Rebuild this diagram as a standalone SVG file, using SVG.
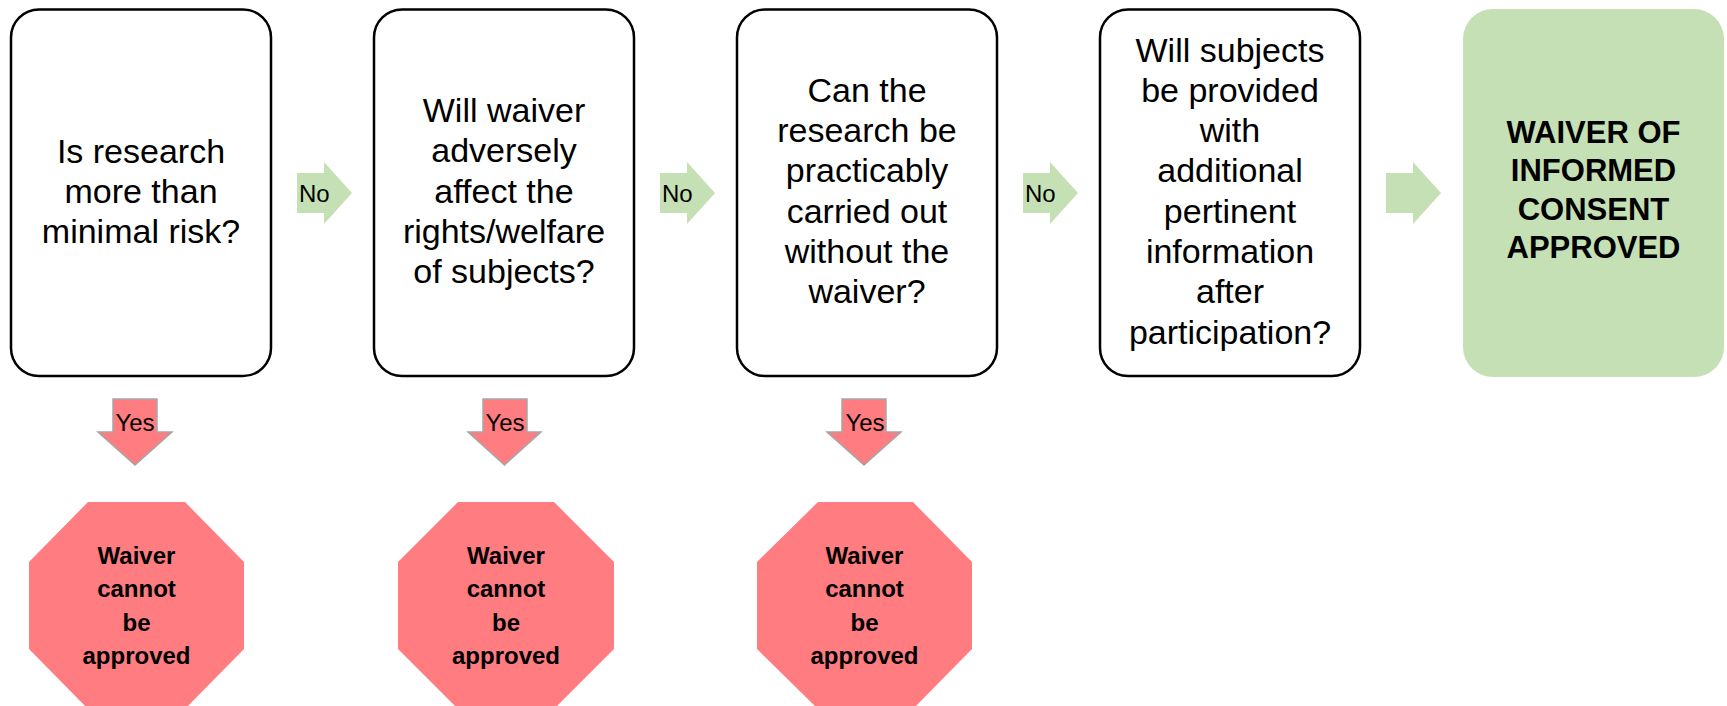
<svg xmlns="http://www.w3.org/2000/svg" width="1727" height="706" viewBox="0 0 1727 706">
<defs>
<style>
.box{fill:#ffffff;stroke:#000000;stroke-width:2.5}
.final{fill:#c5e0b4;stroke:none}
.stop{fill:#ff7c80;stroke:none}
.no{fill:#c5e0b4;stroke:none}
.yes{fill:#ff7c80;stroke:#a6a6a6;stroke-width:1.5}
.q{font-family:"Liberation Sans",Arial,sans-serif;font-size:34px;fill:#000;text-anchor:middle}
.fb{font-family:"Liberation Sans",Arial,sans-serif;font-size:31px;font-weight:bold;fill:#000;text-anchor:middle}
.sb{font-family:"Liberation Sans",Arial,sans-serif;font-size:24px;font-weight:bold;fill:#000;text-anchor:middle}
.lbl{font-family:"Liberation Sans",Arial,sans-serif;font-size:24px;fill:#000}
</style>
</defs>
<rect width="1727" height="706" fill="#ffffff"/>

<g id="q1">
<rect class="box" x="11" y="9.5" width="260" height="366.5" rx="28"/>
<text class="q" x="141"><tspan x="141" y="162.5">Is research</tspan><tspan x="141" y="202.8">more than</tspan><tspan x="141" y="243">minimal risk?</tspan></text>
</g>

<g id="q2">
<rect class="box" x="374" y="9.5" width="260" height="366.5" rx="28"/>
<text class="q"><tspan x="504" y="122">Will waiver</tspan><tspan x="504" y="162.3">adversely</tspan><tspan x="504" y="202.6">affect the</tspan><tspan x="504" y="242.9">rights/welfare</tspan><tspan x="504" y="283.2">of subjects?</tspan></text>
</g>

<g id="q3">
<rect class="box" x="737" y="9.5" width="260" height="366.5" rx="28"/>
<text class="q"><tspan x="867" y="101.8">Can the</tspan><tspan x="867" y="142.1">research be</tspan><tspan x="867" y="182.4">practicably</tspan><tspan x="867" y="222.7">carried out</tspan><tspan x="867" y="263">without the</tspan><tspan x="867" y="303.3">waiver?</tspan></text>
</g>

<g id="q4">
<rect class="box" x="1100" y="9.5" width="260" height="366.5" rx="28"/>
<text class="q"><tspan x="1230" y="61.5">Will subjects</tspan><tspan x="1230" y="101.8">be provided</tspan><tspan x="1230" y="142.1">with</tspan><tspan x="1230" y="182.4">additional</tspan><tspan x="1230" y="222.7">pertinent</tspan><tspan x="1230" y="263">information</tspan><tspan x="1230" y="303.3">after</tspan><tspan x="1230" y="343.6">participation?</tspan></text>
</g>

<g id="approved">
<rect class="final" x="1463" y="9" width="261" height="368" rx="30"/>
<text class="fb"><tspan x="1593.5" y="143">WAIVER OF</tspan><tspan x="1593.5" y="181.3">INFORMED</tspan><tspan x="1593.5" y="219.6">CONSENT</tspan><tspan x="1593.5" y="258">APPROVED</tspan></text>
</g>

<g id="stop1">
<polygon class="stop" points="88,502 185,502 244,562 244,649 185,709 88,709 29,649 29,562"/>
<text class="sb"><tspan x="136.5" y="564">Waiver</tspan><tspan x="136.5" y="597.3">cannot</tspan><tspan x="136.5" y="630.6">be</tspan><tspan x="136.5" y="664">approved</tspan></text>
</g>

<g id="stop2">
<polygon class="stop" points="458,502 554,502 614,562 614,649 554,709 458,709 398,649 398,562"/>
<text class="sb"><tspan x="506" y="564">Waiver</tspan><tspan x="506" y="597.3">cannot</tspan><tspan x="506" y="630.6">be</tspan><tspan x="506" y="664">approved</tspan></text>
</g>

<g id="stop3">
<polygon class="stop" points="818,502 913,502 972,562 972,649 913,709 818,709 757,649 757,562"/>
<text class="sb"><tspan x="864.5" y="564">Waiver</tspan><tspan x="864.5" y="597.3">cannot</tspan><tspan x="864.5" y="630.6">be</tspan><tspan x="864.5" y="664">approved</tspan></text>
</g>

<g id="connectors">
<polygon class="no" points="297,173 324,173 324,162 352,193 324,224 324,213 297,213"/>
<text class="lbl" x="299" y="202">No</text>
<polygon class="no" points="660,173 687,173 687,162 715,193 687,224 687,213 660,213"/>
<text class="lbl" x="662" y="202">No</text>
<polygon class="no" points="1023,173 1050,173 1050,162 1078,193 1050,224 1050,213 1023,213"/>
<text class="lbl" x="1025" y="202">No</text>
<polygon class="no" points="1386,173 1413,173 1413,162 1441,193 1413,224 1413,213 1386,213"/>

<polygon class="yes" points="113,399 157,399 157,432 172,432 135,465 98,432 113,432"/>
<text class="lbl" x="135" y="431" text-anchor="middle">Yes</text>
<polygon class="yes" points="483,399 527,399 527,432 541,432 504.5,465 468,432 483,432"/>
<text class="lbl" x="505" y="431" text-anchor="middle">Yes</text>
<polygon class="yes" points="842,399 886,399 886,432 901,432 864,465 827,432 842,432"/>
<text class="lbl" x="865" y="431" text-anchor="middle">Yes</text>
</g>
</svg>
